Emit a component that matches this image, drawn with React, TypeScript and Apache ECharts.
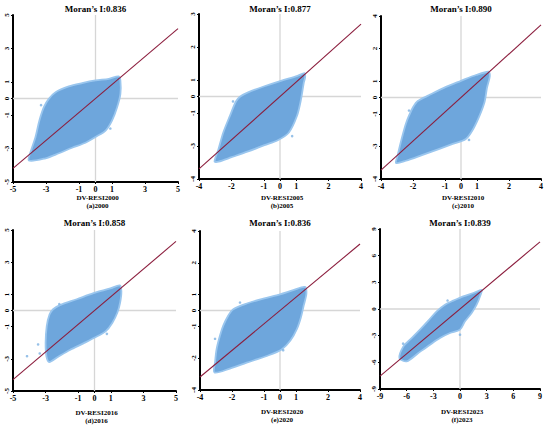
import React, { useEffect, useRef } from 'react';
import * as echarts from 'echarts';

// ---------- data ----------
const panelLabels = ['(a)2000', '(b)2005', '(c)2010', '(d)2016', '(e)2020', '(f)2023'];
const xNames = ['DV-RESI2000', 'DV-RESI2005', 'DV-RESI2010', 'DV-RESI2016', 'DV-RESI2020', 'DV-RESI2023'];
const moranI = [0.836, 0.877, 0.89, 0.858, 0.836, 0.839];
const axisLimit = [5, 5, 5, 5, 5, 9];

const tickPos5 = [-5, -3, -1, 0, 1, 3, 5];
const tickPos9 = [-9, -6, -3, 0, 3, 6, 9];

const xTickLabels = [
  ['-5', '-3', '-1', '0', '1', '3', '5'],
  ['-4', '-2', '-1', '0', '1', '2', '4'],
  ['-4', '-2', '-1', '0', '1', '2', '4'],
  ['-5', '-3', '-1', '0', '1', '3', '5'],
  ['-4', '-2', '-1', '0', '1', '2', '4'],
  ['-9', '-6', '-3', '0', '3', '6', '9'],
];
const yTickLabels = [
  ['-5', '-3', '-1', '0', '1', '3', '5'],
  ['-4', '-3', '-1', '0', '1', '2', '3'],
  ['-4', '-3', '-1', '0', '1', '2', '4'],
  ['-5', '-3', '-1', '0', '1', '3', '5'],
  ['-4', '-2', '-1', '0', '1', '2', '4'],
  ['-9', '-6', '-3', '0', '3', '6', '9'],
];

// outline of each point cloud
const cloudA = [
  [-4.04, -3.71], [-3.9, -3.1], [-3.64, -2.32], [-3.4, -1.32], [-3.13, -0.52], [-2.83, -0.02],
  [-2.42, 0.38], [-1.62, 0.72], [-0.81, 0.92], [0, 1.08], [0.81, 1.18], [1.41, 1.32], [1.51, 1.08],
  [1.51, 0.28], [1.31, -0.52], [1.0, -1.32], [0.61, -1.92], [0, -2.3], [-0.61, -2.65],
  [-1.42, -2.95], [-2.22, -3.28], [-3.03, -3.58],
];
const cloudB = [
  [-4.04, -3.94], [-3.8, -3.19], [-3.5, -2.18], [-3.09, -1.17], [-2.72, -0.3], [-2.45, 0.0],
  [-1.97, 0.25], [-0.96, 0.62], [0.06, 0.95], [1.08, 1.25], [1.52, 1.42], [1.55, 1.15],
  [1.47, 0.85], [1.3, -0.16], [1.05, -1.17], [0.55, -2.18], [-0.14, -2.65], [-0.96, -2.95],
  [-1.97, -3.33], [-2.99, -3.68], [-3.8, -3.95],
];
const cloudC = [
  [-4.06, -4.02], [-3.96, -3.55], [-3.81, -2.93], [-3.65, -2.31], [-3.44, -1.59], [-3.23, -1.07],
  [-3.0, -0.6], [-2.7, -0.22], [-1.98, 0.15], [-0.94, 0.65], [0, 1.02], [0.94, 1.38], [1.73, 1.58],
  [1.8, 1.3], [1.62, 0.58], [1.48, -0.25], [1.18, -1.07], [0.78, -1.9], [0.3, -2.55],
  [-0.52, -2.85], [-1.35, -3.15], [-2.4, -3.52], [-3.44, -3.88],
];
const cloudD = [
  [-2.78, -3.2], [-2.95, -2.84], [-3.0, -2.01], [-2.93, -0.97], [-2.76, -0.25], [-2.54, 0.08],
  [-2.12, 0.33], [-1.09, 0.7], [-0.06, 1.08], [0.97, 1.37], [1.55, 1.56], [1.65, 1.2],
  [1.57, 0.48], [1.4, -0.14], [1.09, -0.77], [0.68, -1.3], [0.14, -1.62], [-0.68, -2.04],
  [-1.51, -2.45], [-2.23, -2.87],
];
const cloudE = [
  [-4.1, -3.9], [-4.06, -3.25], [-3.96, -2.41], [-3.75, -1.57], [-3.54, -0.94], [-3.23, -0.31],
  [-2.92, 0.08], [-2.08, 0.44], [-1.04, 0.75], [0, 1.02], [0.83, 1.28], [1.56, 1.48],
  [1.65, 1.05], [1.48, 0.31], [1.31, -0.42], [1.06, -1.15], [0.65, -1.89], [0.1, -2.45],
  [-0.83, -2.86], [-2.08, -3.28], [-3.13, -3.65],
];
const cloudF = [
  [-6.82, -5.51], [-6.37, -4.2], [-5.62, -3.45], [-4.5, -2.32], [-3.56, -1.31], [-2.62, -0.26],
  [-1.69, 0.49], [-0.75, 0.94], [0.37, 1.42], [1.5, 1.8], [2.44, 2.14], [2.32, 1.61],
  [1.87, 0.49], [1.31, -0.45], [0.56, -1.39], [0, -2.32], [-1.12, -2.7], [-2.25, -3.26],
  [-3.37, -4.01], [-4.69, -4.95], [-6.0, -5.89],
];
const clouds = [cloudA, cloudB, cloudC, cloudD, cloudE, cloudF];

// isolated points outside the dense clouds
const outliersA = [[-3.3, -0.4], [0.9, -1.8]];
const outliersB = [[-2.9, -0.3], [0.75, -2.4]];
const outliersC = [[-3.25, -0.8], [0.5, -2.6]];
const outliersD = [[-4.14, -2.84], [-3.46, -2.11], [-3.36, -2.67], [-2.16, 0.4], [0.76, -1.45]];
const outliersE = [[-4.06, -1.78], [-2.5, 0.5], [0.2, -2.5]];
const outliersF = [[-6.4, -3.9], [0.0, -2.89], [-1.4, 0.95]];
const outliers = [outliersA, outliersB, outliersC, outliersD, outliersE, outliersF];

// ---------- layout ----------
const grids = [
  { left: 13, top: 15, width: 165, height: 167 },
  { left: 199, top: 14, width: 162, height: 165 },
  { left: 381, top: 16, width: 160, height: 163 },
  { left: 13, top: 230, width: 163, height: 161 },
  { left: 200, top: 231, width: 160, height: 159 },
  { left: 380, top: 229, width: 160, height: 160 },
];
const titleY = [9, 9, 9, 223, 223, 223];
const nameY = [198, 198, 198, 413, 412, 412];

const FONT = '"Liberation Serif", "Times New Roman", serif';
const CLOUD_FILL = '#6ea6dc';
const CLOUD_EDGE = '#9ac6ee';
const LINE_COLOR = '#8b1d3d';
const ZERO_COLOR = '#d6d6d6';

function buildOption() {
  const xAxis: any[] = [];
  const yAxis: any[] = [];
  const series: any[] = [];
  const graphic: any[] = [];

  grids.forEach((g, i) => {
    const R = axisLimit[i];
    const ticks = R === 9 ? tickPos9 : tickPos5;
    const fmt = (labels: string[]) => (v: number) => {
      const k = ticks.indexOf(Math.round(v));
      return k >= 0 ? labels[k] : '';
    };
    const common = {
      gridIndex: i,
      type: 'value',
      min: -R,
      max: R,
      splitLine: { show: false },
      axisLine: { show: true, onZero: false, lineStyle: { color: '#000', width: 2 } },
      axisTick: { show: true, customValues: ticks, length: 2, lineStyle: { color: '#000', width: 1 } },
    };
    xAxis.push({
      ...common,
      axisLabel: {
        customValues: ticks,
        formatter: fmt(xTickLabels[i]),
        fontFamily: FONT,
        fontWeight: 'bold',
        fontSize: 8,
        color: '#000',
        margin: 3,
      },
    });
    yAxis.push({
      ...common,
      axisLabel: {
        customValues: ticks,
        formatter: fmt(yTickLabels[i]),
        fontFamily: FONT,
        fontWeight: 'bold',
        fontSize: 7,
        color: '#000',
        rotate: 90,
        margin: 3,
      },
    });

    // zero reference lines
    series.push({
      type: 'line', xAxisIndex: i, yAxisIndex: i, z: 1, silent: true, symbol: 'none',
      lineStyle: { color: ZERO_COLOR, width: 1.3 },
      data: [[-R, 0], [R, 0]],
    });
    series.push({
      type: 'line', xAxisIndex: i, yAxisIndex: i, z: 1, silent: true, symbol: 'none',
      lineStyle: { color: ZERO_COLOR, width: 1.3 },
      data: [[0, -R], [0, R]],
    });

    // point cloud
    const outline = clouds[i];
    series.push({
      type: 'custom', xAxisIndex: i, yAxisIndex: i, z: 2, silent: true,
      data: outline,
      renderItem: (params: any, api: any) => {
        if (params.dataIndex !== 0) return { type: 'group', children: [] };
        const pts = outline.map((p) => api.coord(p));
        return {
          type: 'polygon',
          shape: { points: pts, smooth: 0.3 },
          style: { fill: CLOUD_FILL, stroke: CLOUD_EDGE, lineWidth: 1.8, lineJoin: 'round' },
        };
      },
    });
    series.push({
      type: 'scatter', xAxisIndex: i, yAxisIndex: i, z: 2, silent: true,
      symbolSize: 2.6,
      itemStyle: { color: '#7db2e2' },
      data: outliers[i],
    });

    // Moran regression line
    const I = moranI[i];
    series.push({
      type: 'line', xAxisIndex: i, yAxisIndex: i, z: 3, silent: true, symbol: 'none',
      lineStyle: { color: LINE_COLOR, width: 1.1 },
      data: [[-R, -R * I], [R, R * I]],
    });

    const cx = g.left + g.width / 2;
    graphic.push({
      type: 'text', x: cx, y: titleY[i],
      style: {
        text: 'Moran\u2019s I:' + I.toFixed(3),
        fontFamily: FONT, fontWeight: 'bold', fontSize: 9, fill: '#000',
        align: 'center', verticalAlign: 'middle',
      },
    });
    graphic.push({
      type: 'text', x: cx + 2, y: nameY[i],
      style: {
        text: xNames[i],
        fontFamily: FONT, fontWeight: 'bold', fontSize: 7, fill: '#000',
        align: 'center', verticalAlign: 'middle',
      },
    });
    graphic.push({
      type: 'text', x: cx + 2, y: nameY[i] + 8,
      style: {
        text: panelLabels[i],
        fontFamily: FONT, fontWeight: 'bold', fontSize: 7, fill: '#000',
        align: 'center', verticalAlign: 'middle',
      },
    });
  });

  return {
    animation: false,
    backgroundColor: '#fff',
    grid: grids.map((g) => ({ ...g, containLabel: false })),
    xAxis,
    yAxis,
    series,
    graphic,
  };
}

export default function App() {
  const ref = useRef<HTMLDivElement>(null);
  useEffect(() => {
    if (!ref.current) return;
    const chart = echarts.init(ref.current, undefined, { renderer: 'svg' });
    chart.setOption(buildOption() as any);
    return () => chart.dispose();
  }, []);
  return (
    <div
      ref={ref}
      style={{ position: 'absolute', left: 0, top: 0, width: 550, height: 430, background: '#fff' }}
    />
  );
}
